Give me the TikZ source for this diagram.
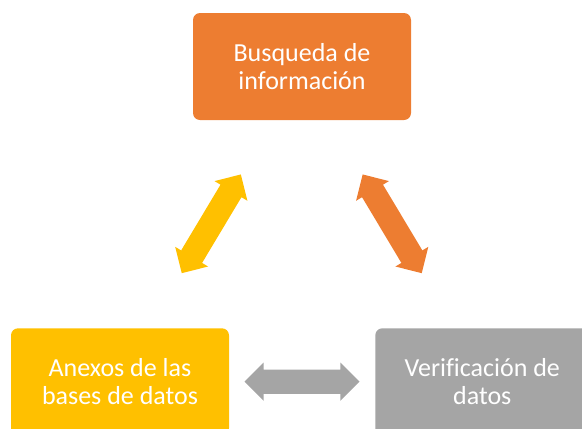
\documentclass[tikz,border=0pt]{standalone}
\usepackage{fontspec}
\setmainfont{Carlito}[Ligatures=NoCommon]
\usetikzlibrary{shapes.arrows}
\definecolor{corange}{HTML}{ED7D31}
\definecolor{cyellow}{HTML}{FFC000}
\definecolor{cgray}{HTML}{A5A5A5}
\begin{document}
\begin{tikzpicture}[x=1pt,y=-1pt,
  box/.style={rounded corners=7pt, minimum width=218pt, minimum height=107pt,
    text=white, align=center, font=\fontsize{26}{28}\selectfont, inner sep=0pt},
  dbl/.style={double arrow, minimum height=115pt, inner xsep=0pt, inner ysep=12pt,
    double arrow head extend=7pt, double arrow tip angle=90}]
\useasboundingbox (0,0) rectangle (582,429);
\node[box, fill=corange] (busq) at (302,66.5) {Busqueda de\\información};
\node[box, fill=cyellow] (anex) at (120,381.8) {Anexos de las\\bases de datos};
\node[box, fill=cgray, minimum width=214pt] (verif) at (482.3,381.8) {Verificación de\\datos};
\node[dbl, fill=cyellow, rotate=59.1] (a1) at (211.3,223.8) {};
\node[dbl, fill=corange, rotate=-59.1] (a2) at (392.2,223.8) {};
\node[dbl, fill=cgray] (a3) at (302,381.7) {};
\end{tikzpicture}
\end{document}
